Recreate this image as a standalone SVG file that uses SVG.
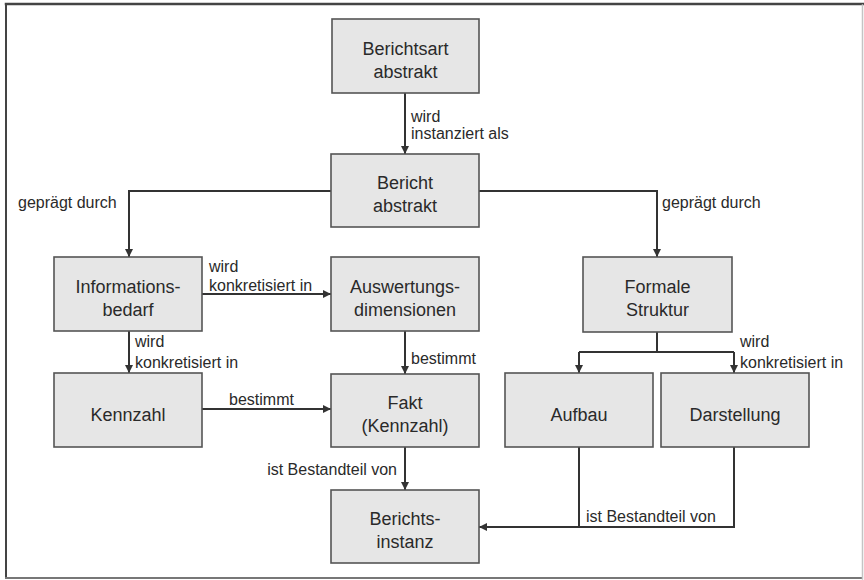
<svg xmlns="http://www.w3.org/2000/svg" width="864" height="580" viewBox="0 0 864 580">
<style>
.box{fill:#e6e6e6;stroke:#555;stroke-width:1.6}
.bt{font-family:"Liberation Sans",Arial,sans-serif;font-size:18px;fill:#2a2a2a;text-anchor:middle}
.lb{font-family:"Liberation Sans",Arial,sans-serif;font-size:16px;fill:#2a2a2a}
.cn{fill:none;stroke:#333;stroke-width:2}
.fr{fill:none;stroke-linecap:square}
</style>
<defs>
<marker id="ar" viewBox="0 0 10 10" refX="10" refY="5" markerWidth="8" markerHeight="8" markerUnits="userSpaceOnUse" orient="auto">
<path d="M0,0 L10,5 L0,10 z" fill="#333"/>
</marker>
</defs>
<rect x="0" y="0" width="864" height="580" fill="#fff"/>
<g id="frame">
<path class="fr" d="M6,4 H864" stroke="#444" stroke-width="2.5"/>
<path class="fr" d="M6,4 V578" stroke="#444" stroke-width="2"/>
<path class="fr" d="M6,578 H862" stroke="#777" stroke-width="2"/>
<path class="fr" d="M862.5,5 V579" stroke="#c4c4c4" stroke-width="1.5"/>
</g>

<g id="connectors">
<path class="cn" d="M405,93 V154" marker-end="url(#ar)"/>
<path class="cn" d="M331,191 H129 V257" marker-end="url(#ar)"/>
<path class="cn" d="M479,191 H657 V257" marker-end="url(#ar)"/>
<path class="cn" d="M202,294 H331" marker-end="url(#ar)"/>
<path class="cn" d="M129,331 V373" marker-end="url(#ar)"/>
<path class="cn" d="M405,331 V374" marker-end="url(#ar)"/>
<path class="cn" d="M202,409 H331" marker-end="url(#ar)"/>
<path class="cn" d="M405,447 V490" marker-end="url(#ar)"/>
<path class="cn" d="M657,332 V352"/>
<path class="cn" d="M579,352 H734"/>
<path class="cn" d="M579,352 V373" marker-end="url(#ar)"/>
<path class="cn" d="M734,352 V373" marker-end="url(#ar)"/>
<path class="cn" d="M579,447 V527"/>
<path class="cn" d="M734,447 V527 H479" marker-end="url(#ar)"/>
<text class="lb" x="411" y="122">wird</text>
<text class="lb" x="411" y="139">instanziert als</text>
<text class="lb" x="18" y="208">geprägt durch</text>
<text class="lb" x="662" y="208">geprägt durch</text>
<text class="lb" x="209" y="272">wird</text>
<text class="lb" x="209" y="291">konkretisiert in</text>
<text class="lb" x="135" y="347">wird</text>
<text class="lb" x="135" y="368">konkretisiert in</text>
<text class="lb" x="411" y="364">bestimmt</text>
<text class="lb" x="229" y="405">bestimmt</text>
<text class="lb" x="397" y="475" text-anchor="end">ist Bestandteil von</text>
<text class="lb" x="740" y="347">wird</text>
<text class="lb" x="740" y="368">konkretisiert in</text>
<text class="lb" x="586" y="522">ist Bestandteil von</text>
</g>

<g id="berichtsart">
<rect class="box" x="332" y="19" width="147" height="74"/>
<text class="bt" x="405.5" y="54.5">Berichtsart</text>
<text class="bt" x="405.5" y="77.5">abstrakt</text>
</g>
<g id="bericht">
<rect class="box" x="331" y="154" width="148" height="73"/>
<text class="bt" x="405" y="189">Bericht</text>
<text class="bt" x="405" y="212">abstrakt</text>
</g>
<g id="informationsbedarf">
<rect class="box" x="54" y="257" width="148" height="74"/>
<text class="bt" x="128" y="292.5">Informations-</text>
<text class="bt" x="128" y="315.5">bedarf</text>
</g>
<g id="auswertungsdimensionen">
<rect class="box" x="331" y="257" width="148" height="74"/>
<text class="bt" x="405" y="292.5">Auswertungs-</text>
<text class="bt" x="405" y="315.5">dimensionen</text>
</g>
<g id="formale-struktur">
<rect class="box" x="583" y="257" width="149" height="75"/>
<text class="bt" x="657.5" y="292.5">Formale</text>
<text class="bt" x="657.5" y="315.5">Struktur</text>
</g>
<g id="kennzahl">
<rect class="box" x="54" y="373" width="148" height="74"/>
<text class="bt" x="128" y="420.5">Kennzahl</text>
</g>
<g id="fakt">
<rect class="box" x="331" y="374" width="148" height="73"/>
<text class="bt" x="405" y="409">Fakt</text>
<text class="bt" x="405" y="432">(Kennzahl)</text>
</g>
<g id="aufbau">
<rect class="box" x="505" y="373" width="148" height="74"/>
<text class="bt" x="579" y="420.5">Aufbau</text>
</g>
<g id="darstellung">
<rect class="box" x="661" y="373" width="148" height="74"/>
<text class="bt" x="735" y="420.5">Darstellung</text>
</g>
<g id="berichtsinstanz">
<rect class="box" x="331" y="490" width="148" height="73"/>
<text class="bt" x="405" y="525">Berichts-</text>
<text class="bt" x="405" y="548">instanz</text>
</g>
</svg>
